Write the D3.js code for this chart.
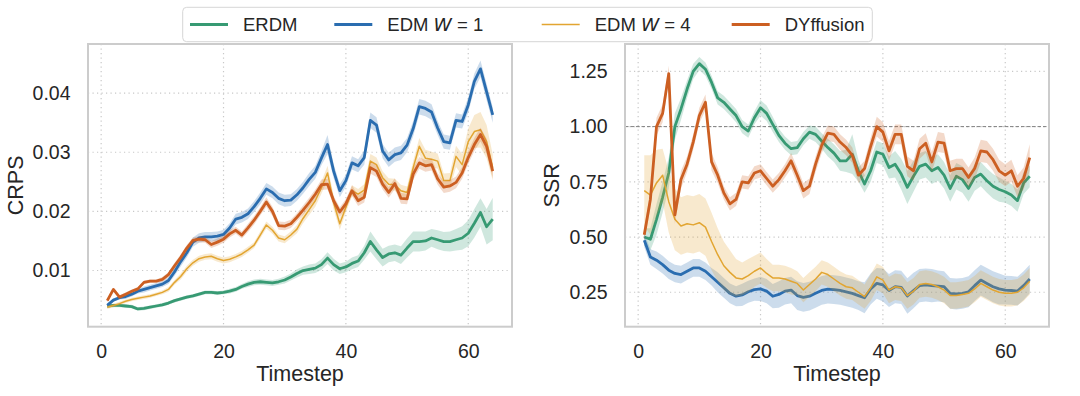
<!DOCTYPE html>
<html>
<head>
<meta charset="utf-8">
<script src="https://cdn.jsdelivr.net/npm/d3@7/dist/d3.min.js"></script>
<style>
  body { margin: 0; background: #fff; }
  svg { font-family: "Liberation Sans", Arial, sans-serif; }
</style>
</head>
<body>
<svg id="chart" width="1080" height="396"></svg>
<script>
// timesteps on the x axis
const timesteps = d3.range(1, 65)

const seriesNames = ["ERDM", "EDM W=1", "EDM W=4", "DYffusion"]
const seriesColors = ["#379a73", "#2a6db0", "#e2a531", "#cc5f22"]
const seriesWidths = [2.8, 2.8, 1.5, 2.8]

// ---- CRPS (left panel) ----
const crpsERDM = [0.0040,0.0041,0.0041,0.0040,0.0039,0.0035,0.0036,0.0038,0.0040,0.0042,
  0.0045,0.0049,0.0052,0.0055,0.0057,0.0060,0.0063,0.0063,0.0062,0.0063,
  0.0065,0.0068,0.0073,0.0077,0.0080,0.0081,0.0080,0.0079,0.0081,0.0084,
  0.0089,0.0095,0.0100,0.0102,0.0104,0.0110,0.0121,0.0110,0.0103,0.0106,
  0.0112,0.0116,0.0130,0.0149,0.0135,0.0122,0.0128,0.0130,0.0126,0.0138,
  0.0149,0.0149,0.0150,0.0155,0.0152,0.0149,0.0149,0.0152,0.0155,0.0163,
  0.0180,0.0198,0.0174,0.0187]
const crpsEDM1 = [0.0041,0.0050,0.0054,0.0056,0.0060,0.0065,0.0068,0.0071,0.0074,0.0077,
  0.0083,0.0098,0.0115,0.0130,0.0148,0.0155,0.0157,0.0157,0.0158,0.0161,
  0.0172,0.0187,0.0190,0.0196,0.0208,0.0222,0.0238,0.0232,0.0222,0.0218,
  0.0219,0.0228,0.0240,0.0254,0.0266,0.0290,0.0313,0.0268,0.0235,0.0252,
  0.0282,0.0277,0.0291,0.0354,0.0346,0.0302,0.0287,0.0296,0.0299,0.0312,
  0.0340,0.0377,0.0374,0.0368,0.0341,0.0318,0.0316,0.0354,0.0352,0.0380,
  0.0420,0.0441,0.0402,0.0363]
const crpsEDM4 = [0.0038,0.0041,0.0044,0.0048,0.0051,0.0053,0.0055,0.0057,0.0060,0.0063,
  0.0068,0.0080,0.0090,0.0103,0.0113,0.0120,0.0123,0.0124,0.0120,0.0117,
  0.0119,0.0123,0.0128,0.0135,0.0143,0.0160,0.0177,0.0168,0.0155,0.0152,
  0.0160,0.0170,0.0188,0.0203,0.0218,0.0240,0.0265,0.0215,0.0179,0.0207,
  0.0235,0.0229,0.0236,0.0285,0.0279,0.0257,0.0246,0.0245,0.0235,0.0232,
  0.0274,0.0310,0.0290,0.0288,0.0285,0.0252,0.0252,0.0293,0.0279,0.0318,
  0.0335,0.0338,0.0318,0.0274]
const crpsDYff = [0.0049,0.0068,0.0055,0.0060,0.0065,0.0069,0.0080,0.0082,0.0082,0.0085,
  0.0093,0.0108,0.0122,0.0138,0.0151,0.0153,0.0152,0.0144,0.0148,0.0153,
  0.0162,0.0168,0.0160,0.0172,0.0185,0.0200,0.0216,0.0200,0.0176,0.0175,
  0.0179,0.0190,0.0202,0.0215,0.0229,0.0245,0.0246,0.0218,0.0199,0.0213,
  0.0235,0.0218,0.0224,0.0274,0.0268,0.0246,0.0232,0.0247,0.0222,0.0221,
  0.0263,0.0282,0.0277,0.0279,0.0255,0.0241,0.0243,0.0249,0.0265,0.0291,
  0.0313,0.0330,0.0310,0.0268]
// half-widths of the shaded bands
const crpsERDMBand = [3,3,3,3,3,3,3,3,3,3, 3,3,3,3,3,3,3,3,3,3, 4,4,4,5,5,5,5,5,5,6,
  6,7,7,8,8,9,10,10,9,9, 10,10,12,17,16,15,14,14,15,16, 17,17,16,15,16,16,17,18,20,22,
  24,24,30,36].map(v => v * 1e-4)
const crpsEDM1Band = [3,3,3,4,4,4,5,5,5,5, 6,7,8,8,8,8,8,8,8,8, 8,9,9,9,9,10,10,10,10,10,
  10,10,10,11,11,12,16,12,11,10, 11,11,12,13,13,12,12,12,12,12, 13,13,13,13,12,12,12,12,12,13,
  13,14,14,13].map(v => v * 1e-4)
const crpsEDM4Band = [3,3,3,3,3,3,3,3,3,3, 4,4,5,5,5,5,5,5,5,5, 5,5,5,5,5,6,6,6,6,6,
  6,7,8,9,10,10,12,12,10,9, 9,9,10,12,12,11,10,10,10,10, 11,14,14,13,13,12,13,18,18,22,
  28,30,28,22].map(v => v * 1e-4)
const crpsDYffBand = [3,3,3,3,3,3,3,3,3,4, 4,5,5,5,5,5,5,6,6,6, 6,6,6,7,7,7,8,8,7,7,
  7,7,8,8,8,9,9,8,8,8, 9,9,9,10,10,9,9,9,9,9, 10,10,10,10,10,10,10,10,10,11,
  11,12,13,12].map(v => v * 1e-4)

// ---- SSR (right panel) ----
const ssrERDM = [0.50,0.49,0.58,0.68,0.79,1.00,1.08,1.17,1.25,1.285,
  1.26,1.20,1.13,1.11,1.08,1.05,1.00,0.98,1.04,1.085,
  1.06,1.01,0.96,0.925,0.90,0.905,0.945,0.975,0.965,0.935,
  0.905,0.88,0.845,0.845,0.875,0.80,0.74,0.80,0.885,0.875,
  0.815,0.83,0.785,0.725,0.775,0.82,0.83,0.80,0.815,0.78,
  0.72,0.775,0.76,0.72,0.77,0.785,0.755,0.73,0.715,0.705,
  0.69,0.665,0.745,0.775]
const ssrEDM1 = [0.485,0.41,0.395,0.375,0.35,0.335,0.33,0.345,0.36,0.36,
  0.345,0.32,0.295,0.27,0.245,0.232,0.238,0.252,0.262,0.265,
  0.255,0.232,0.24,0.255,0.26,0.235,0.227,0.232,0.245,0.258,
  0.264,0.262,0.258,0.252,0.245,0.235,0.225,0.265,0.29,0.283,
  0.258,0.275,0.272,0.233,0.258,0.28,0.283,0.28,0.278,0.275,
  0.245,0.242,0.245,0.252,0.28,0.305,0.29,0.275,0.265,0.26,
  0.258,0.255,0.28,0.31]
const ssrEDM4 = [0.71,0.69,0.745,0.78,0.66,0.58,0.55,0.56,0.555,0.565,
  0.545,0.48,0.42,0.37,0.34,0.315,0.31,0.325,0.345,0.36,
  0.335,0.315,0.315,0.31,0.30,0.29,0.26,0.285,0.31,0.34,
  0.33,0.31,0.29,0.275,0.27,0.25,0.23,0.27,0.32,0.305,
  0.26,0.275,0.27,0.235,0.255,0.285,0.29,0.285,0.275,0.26,
  0.235,0.235,0.24,0.245,0.265,0.29,0.275,0.26,0.25,0.245,
  0.245,0.25,0.27,0.30]
const ssrDYff = [0.51,0.67,1.00,1.06,1.24,0.60,0.76,0.83,0.93,1.05,
  1.11,0.84,0.78,0.70,0.65,0.67,0.75,0.745,0.79,0.80,
  0.765,0.73,0.76,0.80,0.845,0.78,0.71,0.73,0.83,0.915,
  0.97,0.965,0.93,0.905,0.87,0.78,0.81,0.91,1.00,0.975,
  0.89,0.965,0.965,0.82,0.80,0.90,0.925,0.84,0.93,0.925,
  0.80,0.81,0.81,0.77,0.81,0.89,0.885,0.85,0.80,0.78,
  0.80,0.73,0.765,0.86]
const ssrERDMBand = [0.04,0.05,0.07,0.07,0.07,0.06,0.05,0.04,0.035,0.03,
  0.03,0.03,0.03,0.03,0.03,0.03,0.03,0.03,0.03,0.035,
  0.035,0.035,0.03,0.03,0.03,0.03,0.03,0.03,0.035,0.035,
  0.04,0.04,0.045,0.05,0.09,0.05,0.04,0.05,0.05,0.05,
  0.05,0.06,0.07,0.075,0.07,0.06,0.06,0.06,0.06,0.06,
  0.06,0.06,0.06,0.06,0.06,0.055,0.055,0.055,0.055,0.05,
  0.05,0.05,0.05,0.05]
const ssrEDM1Band = [0.03,0.035,0.04,0.04,0.04,0.04,0.04,0.04,0.04,0.04,
  0.04,0.04,0.045,0.045,0.045,0.045,0.05,0.05,0.05,0.055,
  0.055,0.055,0.06,0.06,0.06,0.065,0.065,0.065,0.065,0.065,
  0.065,0.065,0.065,0.065,0.065,0.065,0.07,0.07,0.07,0.075,
  0.075,0.075,0.075,0.08,0.08,0.075,0.075,0.075,0.07,0.07,
  0.07,0.07,0.07,0.07,0.07,0.07,0.07,0.07,0.07,0.065,
  0.065,0.065,0.065,0.065]
const ssrEDM4Band = [0.16,0.18,0.15,0.12,0.14,0.14,0.13,0.13,0.13,0.13,
  0.13,0.13,0.12,0.11,0.10,0.085,0.075,0.075,0.07,0.07,
  0.065,0.06,0.06,0.06,0.06,0.055,0.055,0.055,0.055,0.055,
  0.055,0.055,0.055,0.055,0.055,0.055,0.055,0.06,0.06,0.06,
  0.06,0.06,0.06,0.06,0.06,0.06,0.06,0.06,0.06,0.06,
  0.06,0.06,0.06,0.06,0.06,0.06,0.06,0.06,0.06,0.06,
  0.06,0.06,0.06,0.06]
const ssrDYffBand = [0.03,0.04,0.04,0.04,0.035,0.04,0.04,0.035,0.035,0.035,
  0.035,0.04,0.035,0.03,0.03,0.03,0.03,0.03,0.03,0.03,
  0.03,0.03,0.03,0.03,0.035,0.035,0.035,0.035,0.035,0.035,
  0.035,0.035,0.035,0.035,0.035,0.035,0.035,0.04,0.045,0.045,
  0.045,0.045,0.045,0.045,0.045,0.045,0.045,0.045,0.045,0.045,
  0.045,0.045,0.045,0.045,0.05,0.05,0.05,0.05,0.05,0.05,
  0.05,0.05,0.05,0.06]

const xTicks = [0, 20, 40, 60]
const crpsTicks = [0.01, 0.02, 0.03, 0.04]
const ssrTicks = [0.25, 0.50, 0.75, 1.00, 1.25]

const svg = d3.select("#chart")
const panelTop = 44, panelH = 282.7, panelW = 424

function drawPanel(left, yDomain, yTicks, fmt, ylabel, labelX, lines, bands, refLine) {
    let g = svg.append("g").attr("transform", `translate(${left},${panelTop})`)
    let x = d3.scaleLinear().domain([-2.15, 67.15]).range([0, panelW])
    let y = d3.scaleLinear().domain(yDomain).range([panelH, 0])

    g.append("rect").attr("width", panelW).attr("height", panelH).attr("fill", "#fff")

    // dotted grid
    g.selectAll(".vgrid").data(xTicks).enter().append("line")
        .attr("x1", d => x(d)).attr("x2", d => x(d)).attr("y1", 0).attr("y2", panelH)
        .attr("stroke", "#c8c8c8").attr("stroke-width", 1.2).attr("stroke-dasharray", "1.2,3.3")
    g.selectAll(".hgrid").data(yTicks).enter().append("line")
        .attr("x1", 0).attr("x2", panelW).attr("y1", d => y(d)).attr("y2", d => y(d))
        .attr("stroke", "#c8c8c8").attr("stroke-width", 1.2).attr("stroke-dasharray", "1.2,3.3")

    if (refLine !== undefined) {
        g.append("line").attr("x1", 0).attr("x2", panelW)
            .attr("y1", y(refLine)).attr("y2", y(refLine))
            .attr("stroke", "#808080").attr("stroke-width", 1).attr("stroke-dasharray", "3.5,2")
    }

    let area = d3.area().x((d, i) => x(timesteps[i]))
        .y0(d => y(d[0] - d[1])).y1(d => y(d[0] + d[1]))
    let line = d3.line().x((d, i) => x(timesteps[i])).y(d => y(d))

    lines.forEach((vals, k) => {
        let bandData = vals.map((v, i) => [v, bands[k][i]])
        g.append("path").datum(bandData).attr("d", area)
            .attr("fill", seriesColors[k]).attr("fill-opacity", 0.24).attr("stroke", "none")
        g.append("path").datum(vals).attr("d", line)
            .attr("fill", "none").attr("stroke", seriesColors[k])
            .attr("stroke-width", seriesWidths[k]).attr("stroke-linejoin", "round")
    })

    // axes
    let xAxis = g.append("g").attr("transform", `translate(0,${panelH})`)
        .call(d3.axisBottom(x).tickValues(xTicks).tickSize(0).tickPadding(17.5))
    let yAxis = g.append("g")
        .call(d3.axisLeft(y).tickValues(yTicks).tickFormat(fmt).tickSize(0).tickPadding(17.5))
    ;[xAxis, yAxis].forEach(a => {
        a.select(".domain").remove()
        a.selectAll("text").attr("font-size", 19.5).attr("fill", "#262626")
            .attr("font-family", "Liberation Sans, Arial, sans-serif")
    })

    g.append("rect").attr("width", panelW).attr("height", panelH)
        .attr("fill", "none").attr("stroke", "#cccccc").attr("stroke-width", 2)

    g.append("text").attr("x", panelW / 2).attr("y", panelH + 54)
        .attr("text-anchor", "middle").attr("font-size", 21.5).attr("fill", "#262626")
        .text("Timestep")
    svg.append("text")
        .attr("transform", `translate(${labelX},${panelTop + panelH / 2}) rotate(-90)`)
        .attr("text-anchor", "middle").attr("font-size", 21.5).attr("fill", "#262626")
        .text(ylabel)
}

drawPanel(88, [0.0005, 0.0483], crpsTicks, d3.format(".2f"), "CRPS", 23,
    [crpsERDM, crpsEDM1, crpsEDM4, crpsDYff],
    [crpsERDMBand, crpsEDM1Band, crpsEDM4Band, crpsDYffBand])
drawPanel(625, [0.094, 1.374], ssrTicks, d3.format(".2f"), "SSR", 559,
    [ssrERDM, ssrEDM1, ssrEDM4, ssrDYff],
    [ssrERDMBand, ssrEDM1Band, ssrEDM4Band, ssrDYffBand], 1.0)

// legend
const legendItemX = [190, 334.3, 541.7, 731.7]
let legend = svg.append("g")
legend.append("rect").attr("x", 182.7).attr("y", 7.3).attr("width", 689.6).attr("height", 34.4)
    .attr("rx", 4).attr("fill", "#fff").attr("stroke", "#d6d6d6").attr("stroke-width", 1)
seriesNames.forEach((name, k) => {
    let lx = legendItemX[k]
    legend.append("line").attr("x1", lx).attr("x2", lx + 38).attr("y1", 24.5).attr("y2", 24.5)
        .attr("stroke", seriesColors[k]).attr("stroke-width", seriesWidths[k])
    let t = legend.append("text").attr("x", lx + 53).attr("y", 31)
        .attr("font-size", 18.5).attr("fill", "#262626")
    if (name.startsWith("EDM W=")) {
        t.append("tspan").text("EDM ")
        t.append("tspan").attr("font-style", "italic").attr("font-family", "DejaVu Sans").text("W")
        t.append("tspan").text(" = " + name.split("=")[1])
    } else {
        t.text(name)
    }
})
</script>
</body>
</html>
